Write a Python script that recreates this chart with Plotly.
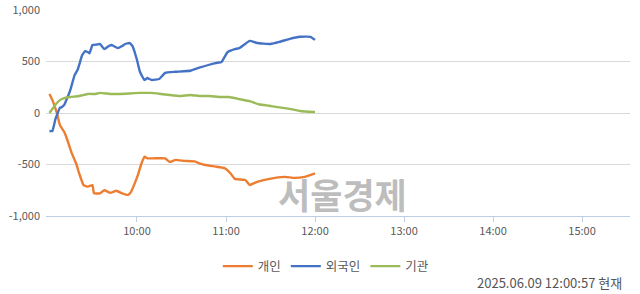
import plotly.graph_objects as go

DAY = "2025-06-09 "

# 개인 (individual)
ind_times = ["09:01", "09:03", "09:06", "09:08", "09:11", "09:13", "09:16", "09:19", "09:21", "09:24",
             "09:27", "09:30", "09:31", "09:35", "09:38", "09:42", "09:46", "09:50", "09:54", "09:56",
             "09:58", "10:01", "10:03", "10:05", "10:07", "10:12", "10:19", "10:22", "10:26", "10:32",
             "10:39", "10:42", "10:46", "10:53", "10:59", "11:03", "11:06", "11:13", "11:16", "11:19",
             "11:26", "11:33", "11:40", "11:46", "11:53", "12:00"]
ind_vals = [185, 125, 0, -115, -185, -260, -390, -490, -585, -700,
            -715, -700, -780, -780, -750, -775, -755, -780, -795, -765,
            -700, -585, -490, -425, -440, -440, -440, -475, -455, -465,
            -470, -490, -505, -520, -535, -585, -640, -650, -700, -680,
            -650, -630, -620, -630, -620, -585]

# 외국인 (foreigner)
for_times = ["09:01", "09:03", "09:05", "09:08", "09:09", "09:11", "09:15", "09:18", "09:20", "09:23",
             "09:25", "09:27", "09:28", "09:30", "09:33", "09:35", "09:38", "09:41", "09:43", "09:47",
             "09:50", "09:52", "09:55", "09:57", "10:00", "10:02", "10:05", "10:07", "10:07", "10:10",
             "10:15", "10:19", "10:26", "10:36", "10:42", "10:53", "10:57", "11:01", "11:06", "11:09",
             "11:16", "11:21", "11:30", "11:36", "11:43", "11:50", "11:57", "12:00"]
for_vals = [-175, -175, -60, 50, 55, 80, 220, 370, 420, 560,
            600, 590, 580, 660, 665, 670, 620, 650, 660, 630,
            650, 670, 680, 650, 515, 400, 320, 340, 340, 320,
            330, 390, 400, 410, 440, 485, 495, 590, 620, 630,
            700, 680, 670, 690, 720, 740, 740, 710]

# 기관 (institution)
ins_times = ["09:01", "09:05", "09:08", "09:11", "09:15", "09:21", "09:27", "09:32", "09:35", "09:42",
             "09:49", "09:55", "10:02", "10:09", "10:16", "10:22", "10:29", "10:36", "10:42", "10:49",
             "10:56", "11:02", "11:09", "11:16", "11:22", "11:29", "11:36", "11:43", "11:50", "12:00"]
ins_vals = [0, 80, 125, 145, 155, 165, 185, 185, 195, 185,
            185, 190, 195, 195, 185, 175, 165, 175, 165, 165,
            155, 155, 135, 115, 85, 70, 55, 40, 20, 10]

y_ticks = [-1000, -500, 0, 500, 1000]
y_labels = ["-1,000", "-500", "0", "500", "1,000"]
x_ticks = ["10:00", "11:00", "12:00", "13:00", "14:00", "15:00"]

FONT = "Noto Sans CJK KR"

fig = go.Figure()
series = [("개인", ind_times, ind_vals, "#ED7D31"),
          ("외국인", for_times, for_vals, "#4472C4"),
          ("기관", ins_times, ins_vals, "#9BBB59")]
for name, t, v, c in series:
    fig.add_trace(go.Scatter(x=[DAY + s for s in t], y=v, mode="lines", name=name,
                             line=dict(color=c, width=2.4, shape="spline", smoothing=0.3)))

fig.add_annotation(text="<b>서울경제</b>", xref="paper", yref="paper", x=0.508, y=0.11,
                   showarrow=False, font=dict(family=FONT, size=35, color="rgba(160,160,160,0.7)"),
                   xanchor="center", yanchor="middle")
fig.add_annotation(text="2025.06.09 12:00:57 현재", xref="paper", yref="paper",
                   x=0.99, y=-0.325, xanchor="right", yanchor="middle", showarrow=False,
                   font=dict(family=FONT, size=13, color="#555555"))

fig.update_layout(
    width=640, height=294,
    margin=dict(l=46, r=10, t=10, b=78),
    paper_bgcolor="white", plot_bgcolor="white",
    font=dict(family=FONT, size=12, color="#595959"),
    showlegend=True,
    legend=dict(orientation="h", x=0.48, xanchor="center", y=-0.245, yanchor="middle",
                font=dict(family=FONT, size=12.5, color="#595959"), itemwidth=30,
                bgcolor="rgba(0,0,0,0)"),
    xaxis=dict(type="date", range=[DAY + "08:58:40", DAY + "15:32:20"],
               tickvals=[DAY + s for s in x_ticks], ticktext=x_ticks, automargin=False,
               showgrid=False, showline=True, linecolor="#BFCFE3", linewidth=1,
               ticks="outside", ticklen=5, tickcolor="#BFCFE3",
               tickfont=dict(family=FONT, size=11, color="#595959"), zeroline=False),
    yaxis=dict(range=[-1000, 1000], tickvals=y_ticks, ticktext=y_labels, automargin=False,
               showgrid=True, gridcolor="#D9D9D9", gridwidth=1, zeroline=False,
               showline=False, ticks="", ticklabelstandoff=5,
               tickfont=dict(family=FONT, size=11, color="#595959")),
)

fig.write_html("out.html")
